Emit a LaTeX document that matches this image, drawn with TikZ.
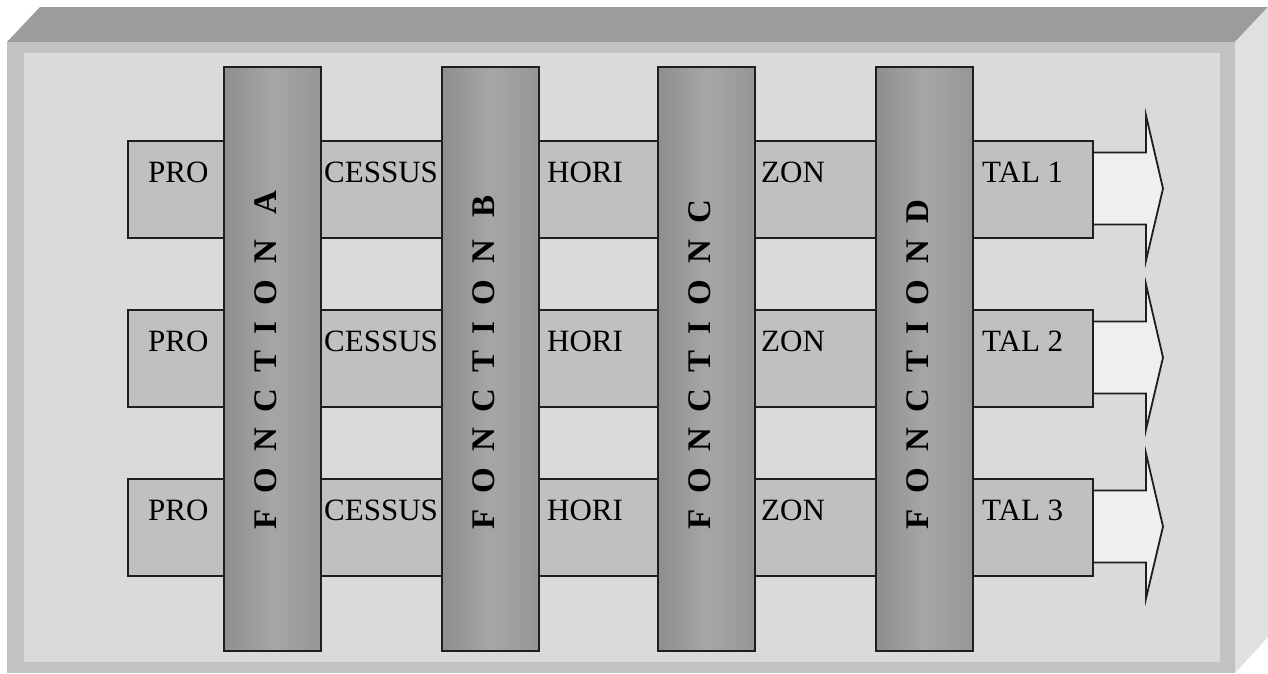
\documentclass[tikz,border=0pt]{standalone}
\usepackage{fontspec}
\setmainfont{Liberation Serif}
\definecolor{topface}{HTML}{9C9C9C}
\definecolor{sideface}{HTML}{E0E0E0}
\definecolor{frameband}{HTML}{C2C2C2}
\definecolor{panel}{HTML}{DADADA}
\definecolor{barfill}{HTML}{C0C0C0}
\definecolor{arrowfill}{HTML}{EFEFEF}
\definecolor{coldark}{HTML}{8E8E8E}
\definecolor{colmid}{HTML}{A6A6A6}
\definecolor{colright}{HTML}{969696}
\definecolor{edge}{HTML}{1E1E1E}
\newcommand\fonctxt[2]{F\hspace{16pt}O\hspace{16pt}N\hspace{16pt}C\hspace{16pt}T\hspace{16pt}I\hspace{16pt}O\hspace{16pt}N\hspace{#2}#1}
\tikzset{
  barbox/.style={draw=edge, line width=1.8pt, fill=barfill, rectangle, minimum width=965pt, minimum height=97pt, anchor=north west, inner sep=0pt},
  colbox/.style={draw=edge, line width=1.8pt, rectangle, left color=coldark, right color=colright, middle color=colmid, minimum width=97pt, minimum height=584pt, anchor=north west, inner sep=0pt},
  arrowshape/.style={draw=edge, line width=1.8pt, fill=arrowfill, line join=miter},
  rowtext/.style={anchor=base west, inner sep=0pt, font=\fontsize{31}{36}\selectfont},
  coltext/.style={anchor=base west, inner sep=0pt, rotate=90, font=\fontsize{33}{38}\selectfont\bfseries}
}
\begin{document}
\begin{tikzpicture}[x=1pt,y=-1pt]
\useasboundingbox (0,0) rectangle (1268,673);
\fill[white] (0,0) rectangle (1268,673);
% 3D frame
\fill[topface] (40,7) -- (1268,7) -- (1235,42) -- (7,42) -- cycle;
\fill[sideface] (1235,42) -- (1268,7) -- (1268,637) -- (1235,673) -- cycle;
\fill[frameband] (7,42) rectangle (1235,673);
\fill[panel] (24,53) rectangle (1220,662);
% arrows
\foreach \t/\n in {140/1,309/2,478/3}{
  \pgfmathsetmacro{\c}{\t+48.5}
  \draw[arrowshape] (1092,\c-36) -- (1146,\c-36) -- (1146,\c-73) -- (1163,\c) -- (1146,\c+72) -- (1146,\c+36) -- (1092,\c+36) -- cycle;
}
% process bars
\node[barbox] (r1) at (127,140) {};
\node[barbox] (r2) at (127,309) {};
\node[barbox] (r3) at (127,478) {};
% row texts
\foreach \t/\n in {140/1,309/2,478/3}{
  \node[rowtext] (pro\n) at (148,\t+42) {PRO};
  \node[rowtext] (cessus\n) at (324,\t+42) {CESSUS};
  \node[rowtext] (hori\n) at (547,\t+42) {HORI};
  \node[rowtext] (zon\n) at (761,\t+42) {ZON};
  \node[rowtext] (tal\n) at (982,\t+42) {TAL \n};
}
% function columns
\node[colbox] (ca) at (223,66) {};
\node[colbox] (cb) at (441,66) {};
\node[colbox] (cc) at (657,66) {};
\node[colbox] (cd) at (875,66) {};
\node[coltext] (ta) at (276,530) {\fonctxt{A}{26pt}};
\node[coltext] (tb) at (494,530) {\fonctxt{B}{22pt}};
\node[coltext] (tc) at (710,530) {\fonctxt{C}{16pt}};
\node[coltext] (td) at (928,530) {\fonctxt{D}{16pt}};
\end{tikzpicture}
\end{document}
